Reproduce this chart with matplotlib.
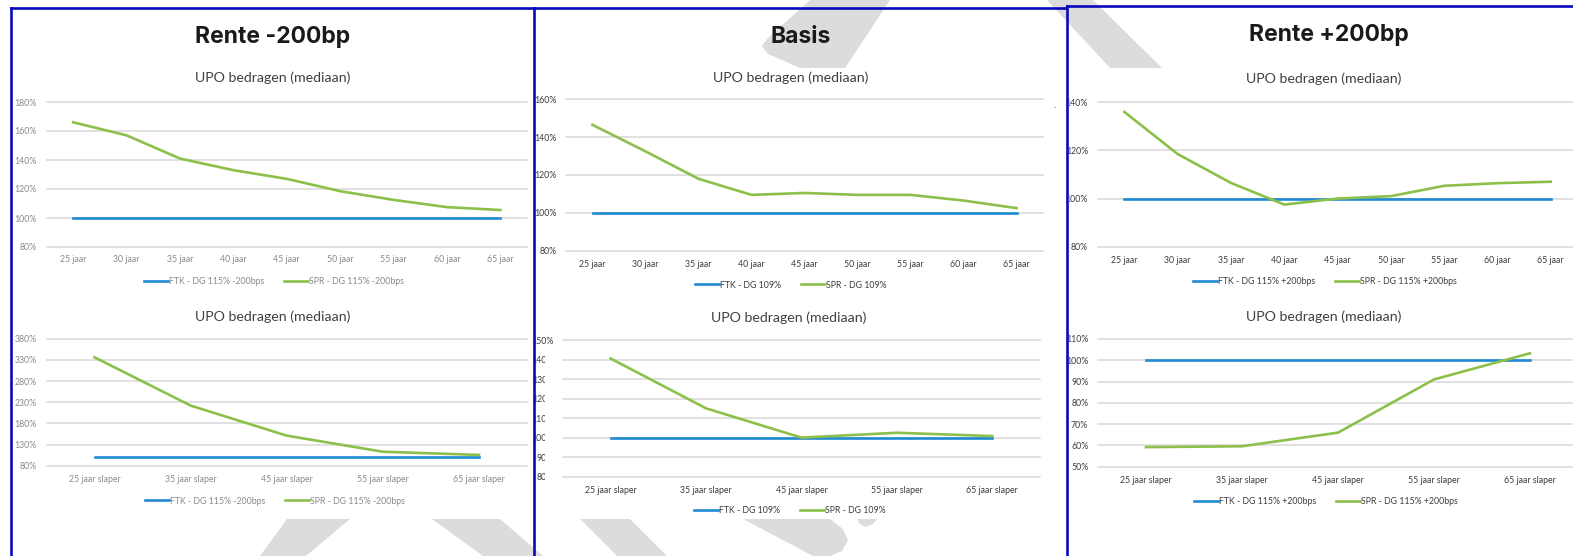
import numpy as np
import matplotlib
matplotlib.use("Agg")
import matplotlib.pyplot as plt
from matplotlib.patches import Polygon, Rectangle
from matplotlib.lines import Line2D

# ---------------- data ----------------
cats_jaar = ["25 jaar", "30 jaar", "35 jaar", "40 jaar", "45 jaar",
             "50 jaar", "55 jaar", "60 jaar", "65 jaar"]
cats_slaper = ["25 jaar slaper", "35 jaar slaper", "45 jaar slaper",
               "55 jaar slaper", "65 jaar slaper"]

# Rente -200bp
ftk_min_jaar = [100, 100, 100, 100, 100, 100, 100, 100, 100]
spr_min_jaar = [166, 157, 141, 133, 127, 118.5, 112.5, 107.5, 105.5]
ftk_min_slaper = [100, 100, 100, 100, 100]
spr_min_slaper = [336, 222, 151, 113, 105.5]

# Basis
ftk_bas_jaar = [100, 100, 100, 100, 100, 100, 100, 100, 100]
spr_bas_jaar = [146.5, 132.5, 118, 109.5, 110.5, 109.5, 109.5, 106.5, 102.5]
ftk_bas_slaper = [100, 100, 100, 100, 100]
spr_bas_slaper = [140.5, 115, 100, 102.5, 100.8]

# Rente +200bp
ftk_plus_jaar = [100, 100, 100, 100, 100, 100, 100, 100, 100]
spr_plus_jaar = [136, 118.5, 106.5, 97.5, 100, 101, 105.3, 106.4, 107]
ftk_plus_slaper = [100, 100, 100, 100, 100]
spr_plus_slaper = [59.2, 59.6, 66, 91, 103.3]

yt_min_jaar = [80, 100, 120, 140, 160, 180]
yt_min_slaper = [80, 130, 180, 230, 280, 330, 380]
yt_bas_jaar = [80, 100, 120, 140, 160]
yt_bas_slaper = [80, 90, 100, 110, 120, 130, 140, 150]
yt_plus_jaar = [80, 100, 120, 140]
yt_plus_slaper = [50, 60, 70, 80, 90, 100, 110]

panel_titles = ["Rente -200bp", "Basis", "Rente +200bp"]
chart_title = "UPO bedragen (mediaan)"
leg_min = ["FTK - DG 115% -200bps", "SPR - DG 115% -200bps"]
leg_bas = ["FTK - DG 109%", "SPR - DG 109%"]
leg_plus = ["FTK - DG 115% +200bps", "SPR - DG 115% +200bps"]

# ---------------- style ----------------
W, H = 1573, 556
BLUE = "#1f8ad2"
GREEN = "#8cc04a"
FRAME = "#0808bc"
GRID = "#d9d9d9"
WM = "#dcdcdc"
FONT = ["Lato", "DejaVu Sans"]
TITLE_FONT = ["Inter", "DejaVu Sans"]

plt.rcParams["font.family"] = FONT

fig = plt.figure(figsize=(W / 100, H / 100), dpi=100)
fig.patch.set_facecolor("white")


def fx(x):
    return x / W


def fy(y):
    return 1 - y / H


def px_rect(x0, y0, x1, y1):
    return [fx(x0), fy(y1), (x1 - x0) / W, (y1 - y0) / H]


# ---------------- watermark shapes (only visible around the charts) ----------------
wm_shapes = [
    [(810, 0), (890, 0), (845, 68), (800, 68), (768, 54), (762, 46), (768, 38)],
    [(1047, 0), (1093, 0), (1162, 68), (1110, 68)],
    [(287, 519), (350, 519), (306, 556), (260, 556)],
    [(432, 519), (500, 519), (543, 556), (483, 556)],
    [(580, 519), (630, 519), (667, 556), (617, 556)],
    [(743, 519), (830, 519), (843, 529), (848, 540), (842, 551), (830, 556), (813, 556)],
    [(857, 519), (877, 519), (873, 524), (866, 527), (860, 524)],
]
for pts in wm_shapes:
    fig.add_artist(Polygon([(fx(x), fy(y)) for x, y in pts], closed=True,
                           transform=fig.transFigure, fc=WM, ec="none", zorder=-5))


def draw_chart(box, cats, ftk, spr, yticks, labels, tick_color, xpad, ypad,
               leg_center, title_center):
    x0, y0, x1, y1 = box
    ax = fig.add_axes(px_rect(x0, y0, x1, y1))
    ax.set_facecolor("none")
    xs = np.arange(len(cats))
    l1, = ax.plot(xs, ftk, color=BLUE, lw=1.9, zorder=3, label=labels[0])
    l2, = ax.plot(xs, spr, color=GREEN, lw=1.9, zorder=4, label=labels[1])
    ax.set_xlim(-0.5, len(cats) - 0.5)
    ax.set_ylim(yticks[0], yticks[-1])
    ax.set_yticks(yticks, [f"{v}%" for v in yticks])
    ax.set_xticks(xs, cats)
    ax.grid(axis="y", color=GRID, lw=1.1)
    ax.grid(axis="x", visible=False)
    ax.set_axisbelow(True)
    for g in ax.get_ygridlines():
        g.set_clip_on(False)
    for s in ax.spines.values():
        s.set_visible(False)
    ax.tick_params(axis="both", length=0, labelsize=6.3, colors=tick_color)
    ax.tick_params(axis="x", pad=xpad)
    ax.tick_params(axis="y", pad=ypad)
    fig.legend(handles=[l1, l2], loc="center",
               bbox_to_anchor=(fx(leg_center[0]), fy(leg_center[1])),
               bbox_transform=fig.transFigure, ncol=2, frameon=False,
               fontsize=6.3, handlelength=2.7, handletextpad=0.15,
               columnspacing=2.3, labelcolor=tick_color, borderpad=0)
    fig.text(fx(title_center[0]), fy(title_center[1]), chart_title,
             ha="center", va="center", fontsize=10.2, color="#404040")
    return ax


LIGHT = "#8a8a8a"
DARK = "#3c3c3c"

# Rente -200bp
draw_chart((46.5, 102, 527, 247), cats_jaar, ftk_min_jaar, spr_min_jaar,
           yt_min_jaar, leg_min, LIGHT, 6, 7, (274, 282), (272.5, 78))
draw_chart((46.5, 338.7, 527, 465.7), cats_slaper, ftk_min_slaper, spr_min_slaper,
           yt_min_slaper, leg_min, LIGHT, 6.5, 7, (275, 501), (273, 316.7))
# Basis
draw_chart((566, 99.3, 1043, 250.7), cats_jaar, ftk_bas_jaar, spr_bas_jaar,
           yt_bas_jaar, leg_bas, DARK, 6.5, 7, (791, 285), (791, 77.7))
draw_chart((563, 340, 1040, 476.7), cats_slaper, ftk_bas_slaper, spr_bas_slaper,
           yt_bas_slaper, leg_bas, DARK, 6.5, 6.5, (790, 510.7), (789, 317.7))
# Rente +200bp
draw_chart((1097.7, 102.3, 1577.4, 246.7), cats_jaar, ftk_plus_jaar, spr_plus_jaar,
           yt_plus_jaar, leg_plus, DARK, 7, 7, (1325, 281.7), (1324, 79))
draw_chart((1098, 339, 1578, 466.7), cats_slaper, ftk_plus_slaper, spr_plus_slaper,
           yt_plus_slaper, leg_plus, DARK, 7, 7, (1326, 501.7), (1324, 316.7))

# panel headings
for (cx, cy), t in zip([(272.5, 37), (801, 37), (1329, 35)], panel_titles):
    fig.text(fx(cx), fy(cy), t, ha="center", va="center", fontsize=16.5,
             fontweight="bold", color="#1a1a1a", family=TITLE_FONT)

# white masks where the slide cuts the chart objects
for (a, b, c, d) in [(527.5, 90, 534, 490), (545, 349, 561, 484), (1044, 90, 1068.5, 480)]:
    fig.add_artist(Rectangle((fx(a), fy(d)), (c - a) / W, (d - b) / H,
                             transform=fig.transFigure, fc="white", ec="none", zorder=5))
fig.text(fx(1055), fy(108), "-", ha="center", va="center", fontsize=5,
         color="#606060", zorder=7)

# blue panel frames
frame_lines = [
    ((11, 11), (8.3, 560)),
    ((11, 534), (8.3, 8.3)),
    ((533.5, 533.5), (8.3, 560)),
    ((534, 1066), (8.3, 8.3)),
    ((1066.5, 1066.5), (6, 560)),
    ((1066.5, 1580), (6, 6)),
]
for xs_, ys_ in frame_lines:
    fig.add_artist(Line2D([fx(v) for v in xs_], [fy(v) for v in ys_],
                          transform=fig.transFigure, color=FRAME, lw=1.9,
                          solid_capstyle="projecting", zorder=6))

fig.savefig("out.png", dpi=100, facecolor="white")
